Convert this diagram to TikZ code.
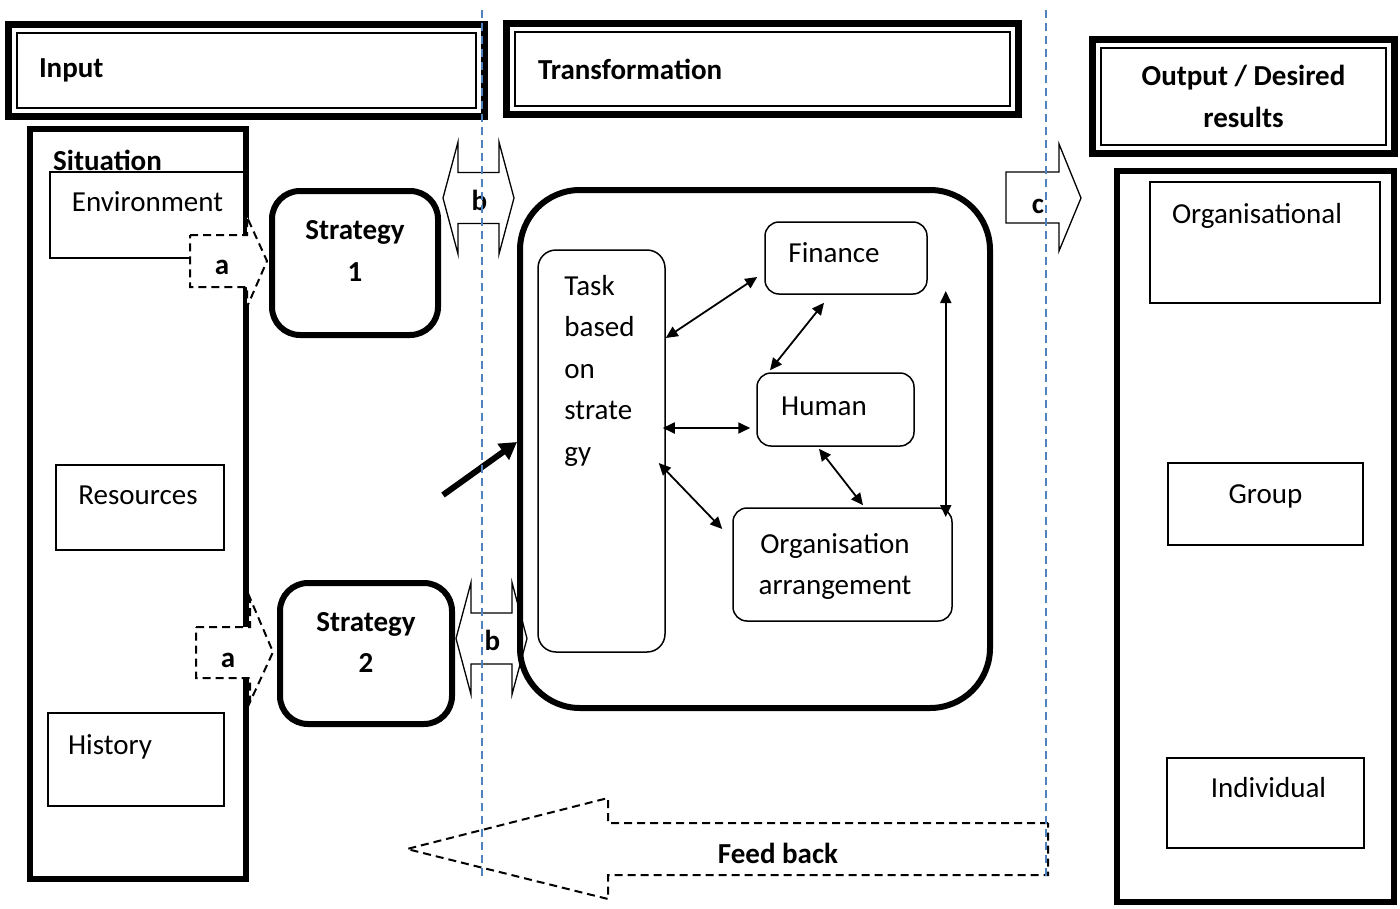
\documentclass[tikz,border=0pt]{standalone}
\usepackage{fontspec}
\setmainfont{Carlito}
\usepackage{tikz}
\usetikzlibrary{arrows.meta,positioning,fit}
\definecolor{guideblue}{RGB}{79,129,189}
\newcommand{\diagfont}{\fontsize{29}{41.5}\selectfont}

\tikzset{
  hdr/.style={draw, line width=1.5pt, font=\diagfont\bfseries},
  hdrframe/.style={draw, line width=7pt, inner sep=7.5pt},
  frame/.style={draw, line width=6pt},
  sbox/.style={draw, line width=1.3pt},
  rbox/.style={draw, line width=1.5pt, rounded corners=14pt},
  stratbox/.style={draw, line width=6pt, rounded corners=28pt},
  blockarrow/.style={draw, line width=1.3pt, line join=miter},
  dashedarrow/.style={blockarrow, line width=2pt, dash pattern=on 8pt off 5pt},
  lbl/.style={font=\diagfont\bfseries},
  twoway/.style={line width=1.8pt, >={Triangle[length=12pt,width=11pt]}, <->},
  guide/.style={guideblue, line width=2pt, dash pattern=on 8pt off 5pt},
}

\begin{document}
\begin{tikzpicture}[x=1pt, y=-1pt, font=\diagfont, inner sep=0pt]
\useasboundingbox (0,0) rectangle (1400,908);

% headers
\node[hdr, minimum width=459pt, minimum height=75pt, text width=415pt, inner xsep=22pt, align=left] (inp) at (246.5,70.5) {Input};
\node[hdrframe, fit=(inp)] (inpframe) {};
\node[hdr, minimum width=495pt, minimum height=74pt, text width=449pt, inner xsep=23pt, align=left] (trans) at (762.5,69) {Transformation};
\node[hdrframe, fit=(trans)] (transframe) {};
\node[hdr, minimum width=285pt, minimum height=97pt, align=center] (outp) at (1243.5,96.5) {Output / Desired\\results};
\node[hdrframe, fit=(outp)] (outpframe) {};

% situation
\node[frame, minimum width=216pt, minimum height=750pt] (sit) at (138,504) {};
\node[lbl, anchor=west] (sittitle) at (53,160) {Situation};
\node[sbox, minimum width=195pt, minimum height=86pt] (env) at (147.5,215) {};
\node (envtxt) at ([yshift=13pt]env) {Environment};
\node[sbox, minimum width=168pt, minimum height=85pt] (res) at (140,507.5) {};
\node (restxt) at ([xshift=-2pt,yshift=12.5pt]res) {Resources};
\node[sbox, minimum width=176pt, minimum height=93pt] (hist) at (136,759.5) {};
\node (histtxt) at ([xshift=-26pt,yshift=13pt]hist) {History};

% a arrows
\draw[dashedarrow, fill=white] (190,235) -- (247,235) -- (247,217) -- (267,261) -- (247,307) -- (247,287) -- (190,287) -- cycle;
\node[lbl] (a1) at (222,267) {a};
\draw[dashedarrow, fill=white] (196,627) -- (250,627) -- (250,598) -- (273,652) -- (250,702) -- (250,678) -- (196,678) -- cycle;
\node[lbl] (a2) at (228,660) {a};

% strategies
\node[stratbox, minimum width=166pt, minimum height=144pt] (s1) at (355,263) {};
\node[lbl, align=center] (s1txt) at ([yshift=12pt]s1) {Strategy\\1};
\node[stratbox, minimum width=172pt, minimum height=141pt] (s2) at (366,653.5) {};
\node[lbl, align=center] (s2txt) at ([yshift=11pt]s2) {Strategy\\2};

% transformation block
\node[frame, rounded corners=60pt, minimum width=470pt, minimum height=518pt] (big) at (755,449) {};
\coordinate (push) at (443,495);
\draw[line width=6pt, -{Triangle[length=17pt,width=19pt]}] (push) -- ([yshift=7pt]big.west);

\node[rbox, rounded corners=18pt, minimum width=127pt, minimum height=402pt] (task) at (601.5,451) {};
\node[align=left, anchor=west] (tasktxt) at ([xshift=27pt,yshift=80.5pt]task.west) {Task\\based\\on\\strate\\gy};
\node[rbox, minimum width=162pt, minimum height=72pt] (fin) at (846,258) {};
\node (fintxt) at ([xshift=-12pt,yshift=5pt]fin) {Finance};
\node[rbox, minimum width=157pt, minimum height=73pt] (hum) at (835.5,409.5) {};
\node (humtxt) at ([xshift=-11.5pt,yshift=3.5pt]hum) {Human};
\node[rbox, minimum width=219pt, minimum height=113pt] (orgarr) at (842.5,564.5) {};
\node[align=center] (orgarrtxt) at ([xshift=-7.5pt,yshift=-2pt]orgarr) {Organisation\\arrangement};

\draw[twoway] ([yshift=113pt]task.east) -- ([xshift=-7pt,yshift=-19pt]fin.west);
\draw[twoway] ([xshift=-22pt,yshift=-8pt]fin.south) -- ([xshift=-65.5pt,yshift=2pt]hum.north);
\draw[twoway] ([xshift=-3pt,yshift=23pt]task.east) -- ([xshift=-6pt,yshift=-18.5pt]hum.west);
\draw[twoway] ([xshift=-7pt,yshift=-12pt]task.east) -- ([xshift=-10pt,yshift=35.5pt]orgarr.west);
\draw[twoway] ([xshift=-16.5pt,yshift=-2pt]hum.south) -- ([xshift=20.5pt,yshift=2pt]orgarr.north);
\draw[twoway] ([xshift=18pt,yshift=-33pt]fin.east) -- ([xshift=-7pt,yshift=47.5pt]orgarr.east);

% b arrows
\foreach \cx/\cy/\nm in {478.5/198/b1, 491.5/638.5/b2} {
  \begin{scope}[shift={(\cx,\cy)}]
    \draw[blockarrow] (-35.5,0) -- (-20.5,-56) -- (-20.5,-25.5) -- (20.5,-25.5) -- (20.5,-56) -- (35.5,0)
      -- (20.5,56) -- (20.5,25.5) -- (-20.5,25.5) -- (-20.5,56) -- cycle;
    \node[lbl] (\nm) at (1,2) {b};
  \end{scope}
}

% c arrow
\draw[blockarrow] (1006,172) -- (1059,172) -- (1059,144) -- (1081,198) -- (1059,251) -- (1059,223) -- (1006,223) -- cycle;
\node[lbl] (c) at (1038,206) {c};

% desired results
\node[frame, minimum width=277pt, minimum height=731pt] (outcol) at (1255,536) {};
\node[sbox, minimum width=230pt, minimum height=121pt] (orgres) at (1265,242.5) {};
\node (orgrestxt) at ([xshift=-8pt,yshift=27pt]orgres) {Organisational};
\node[sbox, minimum width=195pt, minimum height=82pt] (grp) at (1265.5,504) {};
\node (grptxt) at ([yshift=7.5pt]grp) {Group};
\node[sbox, minimum width=197pt, minimum height=90pt] (ind) at (1265.5,803) {};
\node (indtxt) at ([xshift=3pt,yshift=15pt]ind) {Individual};

% feed back
\draw[dashedarrow] (1048,823) -- (608,823) -- (608,798) -- (407,849) -- (608,899) -- (608,875) -- (1048,875) -- cycle;
\node[lbl] (fb) at (778,853) {Feed back};

% boundaries
\draw[guide] (482,10) -- (482,880);
\draw[guide] (1046,10) -- (1046,880);
\end{tikzpicture}
\end{document}
